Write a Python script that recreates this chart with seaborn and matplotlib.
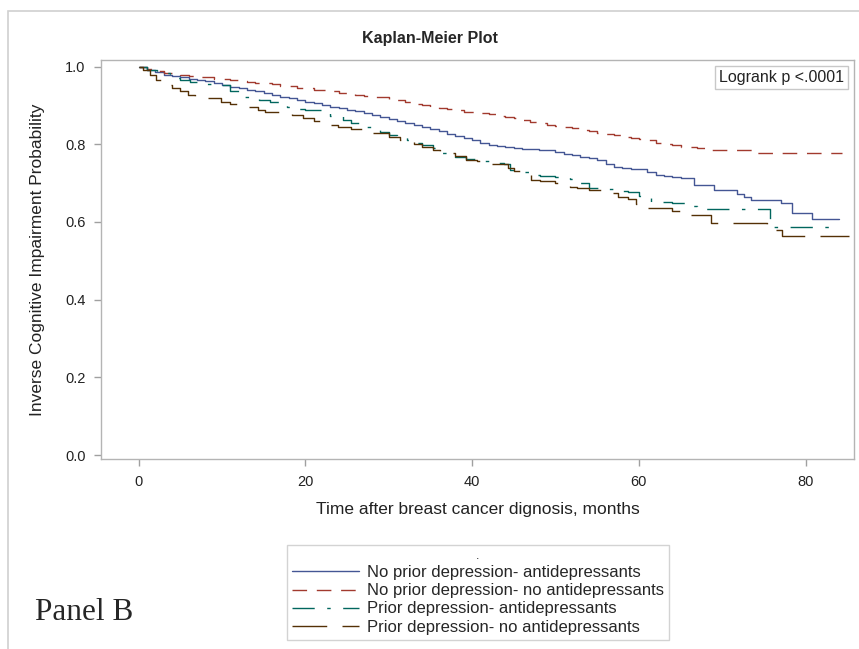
import numpy as np
import pandas as pd
import matplotlib
matplotlib.use('Agg')
import matplotlib.pyplot as plt
import seaborn as sns

# Kaplan-Meier step curves (months, probability)
blue_t = [0, 1, 2, 3, 4, 5, 6, 7, 8, 9, 10, 11, 12, 13, 14, 15, 16, 17, 18, 19,
          20, 21, 22, 23, 24, 25, 26, 27, 28, 29, 30, 31, 32, 33, 34, 35, 36,
          37, 38, 39, 40, 41, 42, 43, 44, 45, 46, 47, 48, 49, 50, 51, 52, 53,
          54, 55, 56, 57, 58, 59, 60, 61, 62, 63, 64,
          65, 66.6, 69, 71.8, 72.6, 73.4, 77, 78.4, 80.8, 84]
blue_s = [1.0, 0.992, 0.985, 0.979, 0.976, 0.972, 0.969, 0.966, 0.962, 0.957,
          0.952, 0.948, 0.944, 0.940, 0.936, 0.932, 0.928, 0.923, 0.918, 0.914,
          0.910, 0.906, 0.902, 0.897, 0.893, 0.889, 0.885, 0.880, 0.875, 0.871,
          0.866, 0.861, 0.856, 0.850, 0.845, 0.839, 0.833, 0.827, 0.821, 0.815,
          0.810,
          0.803, 0.799, 0.795, 0.792, 0.790, 0.789, 0.787, 0.786, 0.785, 0.780,
          0.776, 0.773, 0.768, 0.764, 0.760, 0.750, 0.742, 0.738, 0.737, 0.736,
          0.728, 0.721, 0.718, 0.715,
          0.712, 0.695, 0.682, 0.672, 0.665, 0.657, 0.648, 0.624, 0.608, 0.608]

red_t = [0, 1, 2, 3, 4, 5, 6, 7, 8, 9, 10, 11, 12, 13, 14, 15, 16, 17, 18, 19,
         20, 21, 22, 23, 24, 25, 26, 27, 28, 29, 30, 31, 32, 33, 34, 35, 36,
         37, 38, 39, 40, 41, 42, 43, 44, 45, 46, 47, 48, 49, 50, 51, 52, 53,
         54, 55, 56, 57, 58, 59, 60, 61, 62, 63, 64, 65, 66, 67,
         68.2, 73.7, 84.4]
red_s = [1.0, 0.994, 0.988, 0.983, 0.980, 0.978, 0.976, 0.974, 0.972, 0.969,
         0.967, 0.966, 0.963, 0.960, 0.958, 0.957, 0.954, 0.951, 0.949, 0.946,
         0.944, 0.941, 0.939, 0.936, 0.933, 0.930, 0.927, 0.925, 0.923, 0.921,
         0.917, 0.913, 0.909, 0.905, 0.901, 0.897, 0.894, 0.890, 0.887, 0.884,
         0.882,
         0.880, 0.877, 0.874, 0.870, 0.867, 0.862, 0.858, 0.854, 0.850, 0.848,
         0.845, 0.841, 0.837, 0.833, 0.828, 0.826, 0.823, 0.820, 0.816, 0.813,
         0.811, 0.803, 0.800, 0.797, 0.794, 0.792, 0.790,
         0.785, 0.777, 0.777]

teal_t = [0, 1, 2.2, 3.8, 5, 6.2, 8, 9.8, 11, 12.5, 14.5, 15.8, 17, 17.8, 19,
          20, 22, 23, 24.5, 25.5, 26.6, 28, 29, 30, 31, 32.2, 33, 34, 35.3,
          36.1, 37, 38, 39.3, 40.6, 42, 43.8, 44.5, 46, 47, 48.2, 50, 51.8,
          52.6, 54, 55.7, 57, 58.7, 60, 61.4, 64, 66.4, 67, 75.7, 83.4]
teal_s = [1.0, 0.99, 0.983, 0.970, 0.966, 0.960, 0.956, 0.953, 0.936, 0.923,
          0.914, 0.910, 0.903, 0.897, 0.892, 0.888, 0.880, 0.874, 0.863, 0.854,
          0.845, 0.837, 0.832, 0.824, 0.818, 0.810, 0.803, 0.797, 0.790, 0.777,
          0.773, 0.768, 0.762, 0.757, 0.752, 0.748, 0.735, 0.728, 0.722, 0.718,
          0.716, 0.710, 0.700, 0.688, 0.684, 0.681, 0.676, 0.668, 0.652, 0.650,
          0.640, 0.633, 0.588, 0.588]

brown_t = [0, 0.5, 1.4, 2.1, 3, 4, 5, 5.9, 6.8, 8, 9.9, 11, 12.5, 14.3, 15.2,
           17, 18.4, 19.7, 21, 23, 23.9, 25.5, 26.9, 28, 30, 31.4, 32.2, 33,
           34, 35.3, 36.1, 38, 39.3, 40.6, 42, 44.3, 45, 46, 47.1, 48.2, 50,
           51.8, 52.6, 54, 55.7, 57.5, 58.7, 59.6, 61, 64, 66, 68.6, 75.4,
           77.2, 85.2]
brown_s = [1.0, 0.992, 0.979, 0.966, 0.953, 0.945, 0.937, 0.927, 0.924, 0.918,
           0.910, 0.905, 0.897, 0.888, 0.884, 0.880, 0.876, 0.867, 0.860, 0.850,
           0.845, 0.839, 0.833, 0.830, 0.820, 0.811, 0.807, 0.800, 0.793, 0.785,
           0.777, 0.770, 0.760, 0.757, 0.750, 0.738, 0.730, 0.720, 0.708, 0.706,
           0.700, 0.690, 0.688, 0.682, 0.675, 0.664, 0.660, 0.646, 0.635, 0.628,
           0.618, 0.597, 0.579, 0.564, 0.564]

groups = ['No prior depression- antidepressants',
          'No prior depression- no antidepressants',
          'Prior depression- antidepressants',
          'Prior depression- no antidepressants']

frames = []
for g, t, s in zip(groups, [blue_t, red_t, teal_t, brown_t],
                   [blue_s, red_s, teal_s, brown_s]):
    frames.append(pd.DataFrame({'time': t, 'surv': s, 'group': g}))
km = pd.concat(frames, ignore_index=True)

palette = dict(zip(groups, ['#445694', '#A23A2E', '#01665E', '#543005']))
dashes = dict(zip(groups, ['', (10.5, 7), (16, 9, 2.5, 9), (25, 11)]))

sns.set_style('white')
plt.rcParams['font.family'] = ['Liberation Sans', 'DejaVu Sans']

fig = plt.figure(figsize=(8.59, 6.49), dpi=100)
ax = fig.add_axes([101/859, 1 - 459.3/649, (854 - 101)/859, (459.3 - 60)/649])

sns.lineplot(data=km, x='time', y='surv', hue='group', style='group',
             palette=palette, dashes=dashes, estimator=None, sort=True,
             drawstyle='steps-post', linewidth=1.0, ax=ax)

ax.set_xlim(-4.5, 85.8)
ax.set_ylim(-0.011, 1.017)
ax.set_xticks([0, 20, 40, 60, 80])
ax.set_yticks([0.0, 0.2, 0.4, 0.6, 0.8, 1.0])
ax.set_yticklabels(['0.0', '0.2', '0.4', '0.6', '0.8', '1.0'])
for sp in ax.spines.values():
    sp.set_color('#B4B4B4')
    sp.set_linewidth(1)
ax.tick_params(axis='both', which='both', direction='out', length=5,
               width=1, color='#A0A0A0', labelsize=10.5, labelcolor='#222222',
               bottom=True, left=True, pad=6)
ax.set_xlabel('Time after breast cancer dignosis, months', fontsize=12.5,
              color='#222222', labelpad=10)
ax.set_ylabel('Inverse Cognitive Impairment Probability', fontsize=12.5,
              color='#222222')
ax.yaxis.set_label_coords(-0.075, 0.5)
fig.text(0.5, 1 - 38/649, 'Kaplan-Meier Plot', fontsize=11.5,
         fontweight='bold', ha='center', va='center')

ax.text(0.987, 0.975, 'Logrank p <.0001', transform=ax.transAxes,
        ha='right', va='top', fontsize=11.5, color='#222222',
        bbox=dict(boxstyle='square,pad=0.25', fc='white', ec='#C8C8C8', lw=1))

handles, labels = ax.get_legend_handles_labels()
ax.get_legend().remove()
leg = fig.legend(handles, labels, title='.', loc='upper left',
                 bbox_to_anchor=(287/859, 1 - 545/649), frameon=True,
                 fancybox=False, edgecolor='#C8C8C8', fontsize=12,
                 title_fontsize=9, handlelength=4.0, handletextpad=0.5,
                 labelspacing=0.19, borderpad=0.3, borderaxespad=0)
leg.get_frame().set_linewidth(1)

fig.text(35/859, 1 - 612/649, 'Panel B', fontsize=22.5, va='center',
         family='Liberation Serif')

# outer border of the figure
fig.add_artist(plt.Rectangle((8/859, -0.01), 1, 1 - 11/649 + 0.01,
                             transform=fig.transFigure, fill=False,
                             ec='#D0D0D0', lw=1.2))

fig.savefig('out.png', dpi=100)
